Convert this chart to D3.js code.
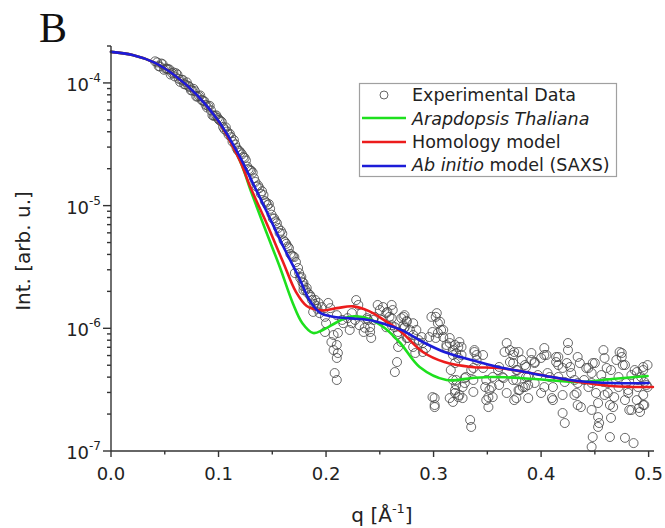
<!DOCTYPE html>
<html>
<head>
<meta charset="utf-8">
<script src="https://cdn.jsdelivr.net/npm/d3@7"></script>
<style>
  html, body { margin: 0; padding: 0; background: #ffffff; }
  svg { display: block; }
  text { font-family: "DejaVu Sans", Verdana, sans-serif; fill: #222; }
</style>
</head>
<body>
<div id="chart"></div>
<script>
// ---------------- data ----------------
const xTicks = [0, 0.1, 0.2, 0.3, 0.4, 0.5];
const xMinorTicks = [0.05, 0.15, 0.25, 0.35, 0.45];
const yTickExponents = [-7, -6, -5, -4];
const legendLabels = ["Experimental Data", "Arapdopsis Thaliana", "Homology model", "Ab initio model (SAXS)"];

// Experimental data (q, intensity)
const qExp = [
  0.041,0.043,0.0455,0.048,0.0505,0.053,0.0555,0.058,0.0605,0.063,0.0655,0.068,0.0705,0.073,0.0755,0.078,0.0805,0.083,0.0855,0.088,
  0.0905,0.093,0.0955,0.098,0.1005,0.103,0.1055,0.108,0.1105,0.113,0.1155,0.118,0.1205,0.123,0.1255,0.128,0.1305,0.133,0.1355,0.138,
  0.1405,0.143,0.1455,0.148,0.1505,0.153,0.1555,0.158,0.1605,0.163,0.1655,0.168,0.1705,
  0.0443,0.0468,0.0493,0.0518,0.0543,0.0568,0.0593,0.0618,0.0643,0.0668,0.0693,0.0718,0.0743,0.0768,0.0793,0.0818,0.0843,0.0868,0.0893,0.0918,
  0.0943,0.0968,0.0993,0.1018,0.1043,0.1068,0.1093,0.1118,0.1143,0.1168,0.1193,0.1218,0.1243,0.1268,0.1293,0.1318,0.1343,0.1368,0.1393,0.1418,
  0.1443,0.1468,0.1493,0.1518,0.1543,0.1568,0.1593,0.1618,0.1643,0.1668,0.1693,
  0.172,0.174,0.175,0.177,0.178,0.179,0.181,0.183,0.186,0.187,0.189,0.191,0.192,
  0.171,0.176,0.179,0.182,0.179,0.185,0.190,0.193,0.196,0.202,0.194,0.188,0.199,0.200,0.199,0.207,0.211,0.205,0.210,0.207,
  0.211,0.210,0.208,0.210,0.216,0.222,0.227,0.224,0.228,0.230,0.233,0.231,0.235,0.236,0.241,0.242,0.239,0.245,0.248,0.253,
  0.250,0.256,0.261,0.259,0.262,0.252,0.256,0.261,0.266,0.267,0.270,0.272,0.275,0.273,0.278,0.276,0.281,0.281,0.284,0.286,
  0.289,0.290,0.293,0.266,0.264,0.302,0.304,0.307,0.299,0.296,0.302,0.309,0.312,0.315,0.318,0.321,0.324,0.323,0.326,0.320,
  0.316,0.318,0.321,0.320,0.318,0.324,0.327,0.329,0.330,0.301,0.301,0.334,0.335,
  0.204,0.210,0.215,0.220,0.224,0.238,0.244,0.241,0.257,0.261,0.264,0.267,0.270,0.273,
  0.273,0.275,0.272,0.275,0.281,0.283,0.286,0.290,0.298,0.303,0.306,0.309,0.304,0.315,0.312,0.320,0.323,0.318,0.326,0.299,
  0.301,0.321,0.320,0.315,0.323,0.327,0.329,0.335,0.338,0.340,0.346,0.349,0.352,0.349,0.355,0.361,0.364,0.368,0.371,0.375,
  0.374,0.378,0.377,0.380,0.375,0.382,0.385,0.386,0.385,0.361,0.368,
  0.338,0.340,0.346,0.337,0.337,0.337,0.348,0.351,0.351,0.354,0.355,0.360,0.365,0.366,0.374,0.379,0.371,0.377,0.374,0.379,
  0.377,0.386,0.388,0.383,0.388,0.391,0.394,0.400,0.403,0.405,0.400,0.408,0.411,0.410,0.416,0.414,0.420,0.425,0.425,0.427,
  0.420,0.420,0.422,0.431,0.434,0.436,0.433,0.437,0.440,0.444,0.448,0.447,0.451,0.454,0.453,0.448,0.447,0.458,0.459,0.461,
  0.458,0.462,0.464,0.465,0.464,0.470,0.475,0.476,0.472,0.468,0.479,0.481,0.482,0.478,0.486,0.489,0.490,0.495,0.499,0.498,
  0.495,0.495,0.489,0.492,
  0.391,0.394,0.403,0.414,0.416,0.424,0.442,0.450,0.473,0.475,0.478,0.487,0.495,0.388,0.403,0.411,0.431,0.434,0.447,0.453,
  0.453,0.467,0.459,0.478,0.484,0.491,0.496,0.490,0.481,0.472,0.462,0.444,0.434,0.422,0.416,0.406,0.397,0.394,0.465,0.456,
  0.447,0.428,0.484,0.496,0.499,0.493
];
const iExp = [
  1.50e-4,1.47e-4,1.36e-4,1.42e-4,1.31e-4,1.29e-4,1.17e-4,1.22e-4,1.20e-4,1.08e-4,1.06e-4,9.76e-5,1.01e-4,9.28e-5,8.67e-5,8.57e-5,7.72e-5,7.91e-5,7.17e-5,6.63e-5,
  6.47e-5,5.97e-5,5.38e-5,5.44e-5,5.00e-5,4.81e-5,4.19e-5,4.02e-5,3.85e-5,3.32e-5,3.15e-5,2.82e-5,2.71e-5,2.49e-5,2.33e-5,1.98e-5,1.92e-5,1.67e-5,1.43e-5,1.39e-5,
  1.31e-5,1.09e-5,1.01e-5,9.42e-6,7.85e-6,7.45e-6,6.57e-6,6.23e-6,5.20e-6,4.88e-6,4.50e-6,3.91e-6,3.81e-6,
  1.37e-4,1.44e-4,1.28e-4,1.31e-4,1.29e-4,1.20e-4,1.13e-4,1.17e-4,1.02e-4,1.06e-4,9.72e-5,9.48e-5,8.72e-5,8.95e-5,7.76e-5,7.81e-5,7.26e-5,7.09e-5,6.31e-5,6.51e-5,
  5.46e-5,5.41e-5,5.17e-5,4.91e-5,4.37e-5,4.34e-5,3.79e-5,3.61e-5,3.42e-5,2.95e-5,2.79e-5,2.62e-5,2.45e-5,2.08e-5,1.95e-5,1.86e-5,1.56e-5,1.46e-5,1.25e-5,1.22e-5,
  1.06e-5,1.03e-5,8.44e-6,7.86e-6,7.19e-6,5.99e-6,5.91e-6,5.04e-6,4.64e-6,4.04e-6,3.86e-6,
  3.47e-6,3.10e-6,2.82e-6,2.62e-6,2.38e-6,2.21e-6,2.05e-6,1.94e-6,1.80e-6,1.70e-6,1.58e-6,1.52e-6,1.44e-6,
  2.82e-6,2.57e-6,2.34e-6,2.13e-6,2.05e-6,1.87e-6,1.70e-6,1.61e-6,1.49e-6,1.61e-6,1.33e-6,1.36e-6,1.24e-6,1.10e-6,9.33e-7,8.82e-7,9.16e-7,7.73e-7,7.31e-7,6.65e-7,
  6.29e-7,5.73e-7,4.32e-7,3.79e-7,1.10e-6,9.69e-7,1.17e-6,1.33e-6,1.70e-6,1.55e-6,1.33e-6,1.06e-6,9.33e-7,1.01e-6,9.33e-7,8.34e-7,1.17e-6,1.24e-6,1.55e-6,1.49e-6,
  1.41e-6,1.33e-6,1.55e-6,1.24e-6,1.41e-6,1.17e-6,1.02e-6,1.06e-6,8.82e-7,7.04e-7,7.73e-7,1.24e-6,1.13e-6,1.02e-6,9.69e-7,8.34e-7,1.10e-6,8.82e-7,9.69e-7,8.03e-7,
  8.49e-7,7.59e-7,6.91e-7,5.31e-7,4.40e-7,1.24e-6,1.10e-6,9.69e-7,9.33e-7,8.49e-7,8.34e-7,8.49e-7,7.04e-7,7.59e-7,6.65e-7,6.29e-7,7.73e-7,5.73e-7,7.04e-7,5.21e-7,
  4.57e-7,3.79e-7,3.45e-7,2.97e-7,2.51e-7,2.86e-7,2.70e-7,3.58e-7,4.01e-7,2.70e-7,2.28e-7,1.79e-7,1.57e-7,
  1.46e-6,1.28e-6,1.17e-6,1.21e-6,1.10e-6,1.21e-6,1.17e-6,1.02e-6,1.36e-6,1.21e-6,1.02e-6,9.33e-7,1.21e-6,1.01e-6,
  1.28e-6,1.15e-6,1.06e-6,8.34e-7,7.04e-7,6.29e-7,7.59e-7,6.41e-7,1.24e-6,1.33e-6,1.13e-6,9.69e-7,9.16e-7,8.34e-7,7.31e-7,7.31e-7,7.04e-7,6.06e-7,6.06e-7,2.75e-7,
  2.37e-7,3.79e-7,3.14e-7,2.70e-7,2.75e-7,3.32e-7,3.93e-7,4.57e-7,6.41e-7,5.52e-7,4.75e-7,3.79e-7,3.14e-7,2.60e-7,2.75e-7,4.84e-7,4.01e-7,7.59e-7,6.65e-7,6.41e-7,
  5.21e-7,4.57e-7,3.79e-7,3.14e-7,2.60e-7,5.52e-7,5.02e-7,4.01e-7,3.32e-7,3.45e-7,2.97e-7,
  6.65e-7,6.06e-7,6.06e-7,4.75e-7,3.79e-7,3.03e-7,3.32e-7,2.75e-7,2.28e-7,3.32e-7,4.01e-7,4.57e-7,3.93e-7,6.41e-7,6.06e-7,6.41e-7,5.31e-7,4.57e-7,3.79e-7,3.14e-7,
  2.70e-7,4.84e-7,4.01e-7,3.32e-7,2.70e-7,5.52e-7,5.31e-7,5.73e-7,6.91e-7,6.06e-7,2.97e-7,4.01e-7,3.32e-7,2.70e-7,5.84e-7,5.31e-7,4.75e-7,7.59e-7,6.65e-7,4.84e-7,
  2.86e-7,2.04e-7,1.69e-7,3.79e-7,5.84e-7,5.21e-7,2.97e-7,2.28e-7,3.79e-7,4.75e-7,5.21e-7,3.58e-7,2.97e-7,1.69e-7,1.89e-7,1.30e-7,1.08e-7,6.65e-7,5.73e-7,4.75e-7,
  3.65e-7,2.97e-7,2.37e-7,1.86e-7,1.30e-7,5.52e-7,6.29e-7,5.02e-7,4.01e-7,2.75e-7,3.58e-7,2.97e-7,2.16e-7,1.28e-7,1.16e-7,4.40e-7,3.79e-7,4.84e-7,5.02e-7,3.45e-7,
  2.86e-7,2.37e-7,2.60e-7,2.08e-7,
  6.29e-7,5.21e-7,6.06e-7,5.84e-7,5.02e-7,5.21e-7,4.75e-7,5.21e-7,6.41e-7,5.84e-7,5.02e-7,4.57e-7,4.57e-7,3.45e-7,3.32e-7,2.60e-7,2.86e-7,2.37e-7,2.16e-7,2.46e-7,
  1.57e-7,2.28e-7,2.86e-7,2.60e-7,2.16e-7,2.24e-7,2.37e-7,3.32e-7,3.14e-7,3.32e-7,3.58e-7,3.32e-7,3.58e-7,3.65e-7,4.01e-7,4.32e-7,4.16e-7,3.58e-7,4.57e-7,4.16e-7,
  4.32e-7,4.32e-7,4.16e-7,3.65e-7,3.32e-7,4.01e-7
];

// Arapdopsis Thaliana model (green)
const qGreen = [0, 0.02, 0.04, 0.06, 0.08, 0.10, 0.12, 0.13, 0.143, 0.157, 0.169, 0.178, 0.188, 0.197, 0.21, 0.222, 0.238, 0.253, 0.269, 0.287, 0.312, 0.336, 0.355, 0.38, 0.405, 0.436, 0.466, 0.499];
const iGreen = [1.79e-4, 1.69e-4, 1.47e-4, 1.14e-4, 7.95e-5, 4.85e-5, 2.31e-5, 1.32e-5, 6.56e-6, 3.16e-6, 1.61e-6, 1.10e-6, 9.15e-7, 9.69e-7, 1.12e-6, 1.24e-6, 1.21e-6, 1.03e-6, 7.59e-7, 4.84e-7, 3.79e-7, 3.94e-7, 4.01e-7, 3.94e-7, 3.79e-7, 3.65e-7, 3.86e-7, 4.08e-7];

// Homology model (red)
const qRed = [0, 0.02, 0.04, 0.06, 0.08, 0.10, 0.12, 0.13, 0.145, 0.16, 0.172, 0.182, 0.195, 0.21, 0.225, 0.24, 0.255, 0.27, 0.29, 0.31, 0.335, 0.36, 0.385, 0.41, 0.435, 0.465, 0.504];
const iRed = [1.79e-4, 1.69e-4, 1.47e-4, 1.14e-4, 7.95e-5, 4.85e-5, 2.31e-5, 1.39e-5, 7.08e-6, 3.47e-6, 1.98e-6, 1.52e-6, 1.40e-6, 1.46e-6, 1.51e-6, 1.38e-6, 1.15e-6, 9.33e-7, 6.41e-7, 5.31e-7, 4.84e-7, 4.75e-7, 4.40e-7, 4.01e-7, 3.65e-7, 3.39e-7, 3.32e-7];

// Ab initio model (blue)
const qBlue = [0, 0.02, 0.04, 0.06, 0.08, 0.10, 0.12, 0.13, 0.145, 0.16, 0.175, 0.185, 0.195, 0.205, 0.22, 0.24, 0.255, 0.27, 0.29, 0.31, 0.335, 0.36, 0.385, 0.41, 0.435, 0.465, 0.5];
const iBlue = [1.79e-4, 1.69e-4, 1.47e-4, 1.14e-4, 7.97e-5, 4.89e-5, 2.49e-5, 1.65e-5, 8.87e-6, 4.69e-6, 2.57e-6, 1.67e-6, 1.33e-6, 1.25e-6, 1.21e-6, 1.17e-6, 1.08e-6, 9.7e-7, 7.73e-7, 6.41e-7, 5.52e-7, 4.84e-7, 4.40e-7, 4.01e-7, 3.72e-7, 3.58e-7, 3.58e-7];

// ---------------- drawing ----------------
const W = 665, H = 528;
const svg = d3.select("#chart").append("svg").attr("width", W).attr("height", H);

const x = d3.scaleLinear().domain([0, 0.505]).range([111, 654]);
const y = d3.scaleLog().domain([1e-7, 2e-4]).range([451, 46]);

const colGreen = "#1ee01e", colRed = "#ec1c1c", colBlue = "#1c1cd8", axisCol = "#333";

// panel letter
svg.append("text").attr("x", 39).attr("y", 42)
  .style("font-family", "'Liberation Serif', 'Times New Roman', serif")
  .style("font-size", "42px").style("fill", "#111").text("B");

// experimental circles
const expData = qExp.map((q, i) => ({ q, v: iExp[i] }));
svg.append("g").selectAll("circle").data(expData).enter().append("circle")
  .attr("cx", d => x(d.q)).attr("cy", d => y(d.v)).attr("r", 4.5)
  .attr("fill", "none").attr("stroke", "#444").attr("stroke-width", 0.95).attr("stroke-opacity", 0.85);

// model curves
const line = d3.line().x(d => x(d[0])).y(d => y(d[1])).curve(d3.curveCatmullRom.alpha(0.5));
const curves = [
  { q: qGreen, v: iGreen, c: colGreen },
  { q: qRed, v: iRed, c: colRed },
  { q: qBlue, v: iBlue, c: colBlue }
];
curves.forEach(cv => {
  svg.append("path").datum(cv.q.map((q, i) => [q, cv.v[i]]))
    .attr("d", line).attr("fill", "none").attr("stroke", cv.c).attr("stroke-width", 2.6)
    .attr("stroke-linejoin", "round").attr("stroke-linecap", "round");
});

// axes
const ax = svg.append("g").attr("stroke", axisCol).attr("stroke-width", 1.4);
ax.append("line").attr("x1", x(0)).attr("x2", x(0)).attr("y1", y(2e-4)).attr("y2", y(1e-7));
ax.append("line").attr("x1", x(0)).attr("x2", x(0.505)).attr("y1", y(1e-7)).attr("y2", y(1e-7));

// x ticks
ax.selectAll(".xt").data(xTicks).enter().append("line")
  .attr("x1", d => x(d)).attr("x2", d => x(d)).attr("y1", y(1e-7)).attr("y2", y(1e-7) + 6);
ax.selectAll(".xm").data(xMinorTicks).enter().append("line")
  .attr("x1", d => x(d)).attr("x2", d => x(d)).attr("y1", y(1e-7)).attr("y2", y(1e-7) + 3.5);
svg.selectAll(".xl").data(xTicks).enter().append("text")
  .attr("x", d => x(d)).attr("y", 480).attr("text-anchor", "middle")
  .style("font-size", "18px").text(d => d3.format(".1f")(d));

// y ticks
const yMinor = [];
yTickExponents.forEach(e => {
  for (let k = 2; k <= 9; k++) {
    const v = k * Math.pow(10, e);
    if (v <= 2e-4 * 1.0001) yMinor.push(v);
  }
});
ax.selectAll(".yt").data(yTickExponents).enter().append("line")
  .attr("x1", x(0) - 8).attr("x2", x(0)).attr("y1", d => y(Math.pow(10, d))).attr("y2", d => y(Math.pow(10, d)));
ax.selectAll(".ym").data(yMinor).enter().append("line")
  .attr("x1", x(0) - 4).attr("x2", x(0)).attr("y1", d => y(d)).attr("y2", d => y(d));

const yl = svg.selectAll(".yl").data(yTickExponents).enter().append("text")
  .attr("x", 101).attr("y", d => y(Math.pow(10, d)) + 8).attr("text-anchor", "end")
  .style("font-size", "18px");
yl.append("tspan").text("10");
yl.append("tspan").attr("dy", -9).style("font-size", "12px").text(d => "-" + Math.abs(d));

// axis titles
const xt = svg.append("text").attr("x", 382).attr("y", 522).attr("text-anchor", "middle").style("font-size", "20px");
xt.append("tspan").text("q [Å");
xt.append("tspan").attr("dy", -9).style("font-size", "13px").text("-1");
xt.append("tspan").attr("dy", 9).text("]");

svg.append("text").attr("transform", "translate(30,251) rotate(-90)").attr("text-anchor", "middle")
  .style("font-size", "20px").text("Int. [arb. u.]");

// legend
const lg = svg.append("g");
lg.append("rect").attr("x", 359.5).attr("y", 83.5).attr("width", 257).attr("height", 93)
  .attr("fill", "#fff").attr("stroke", "#a0a0a0").attr("stroke-width", 1.2);
lg.append("circle").attr("cx", 384).attr("cy", 95).attr("r", 4)
  .attr("fill", "none").attr("stroke", "#666").attr("stroke-width", 1);
const lgLines = [{ y: 118, c: colGreen }, { y: 142, c: colRed }, { y: 166, c: colBlue }];
lg.selectAll(".ll").data(lgLines).enter().append("line")
  .attr("x1", 362).attr("x2", 406).attr("y1", d => d.y).attr("y2", d => d.y)
  .attr("stroke", d => d.c).attr("stroke-width", 2.6);
const lgY = [101, 125, 148, 171];
const lgFont = "17.5px";
lg.append("text").attr("x", 412).attr("y", lgY[0]).style("font-size", lgFont).text(legendLabels[0]);
lg.append("text").attr("x", 412).attr("y", lgY[1]).style("font-size", lgFont).style("font-style", "italic").text(legendLabels[1]);
lg.append("text").attr("x", 412).attr("y", lgY[2]).style("font-size", lgFont).text(legendLabels[2]);
const t4 = lg.append("text").attr("x", 412).attr("y", lgY[3]).style("font-size", lgFont);
t4.append("tspan").style("font-style", "italic").text(legendLabels[3].slice(0, 9));
t4.append("tspan").text(legendLabels[3].slice(9));
</script>
</body>
</html>
